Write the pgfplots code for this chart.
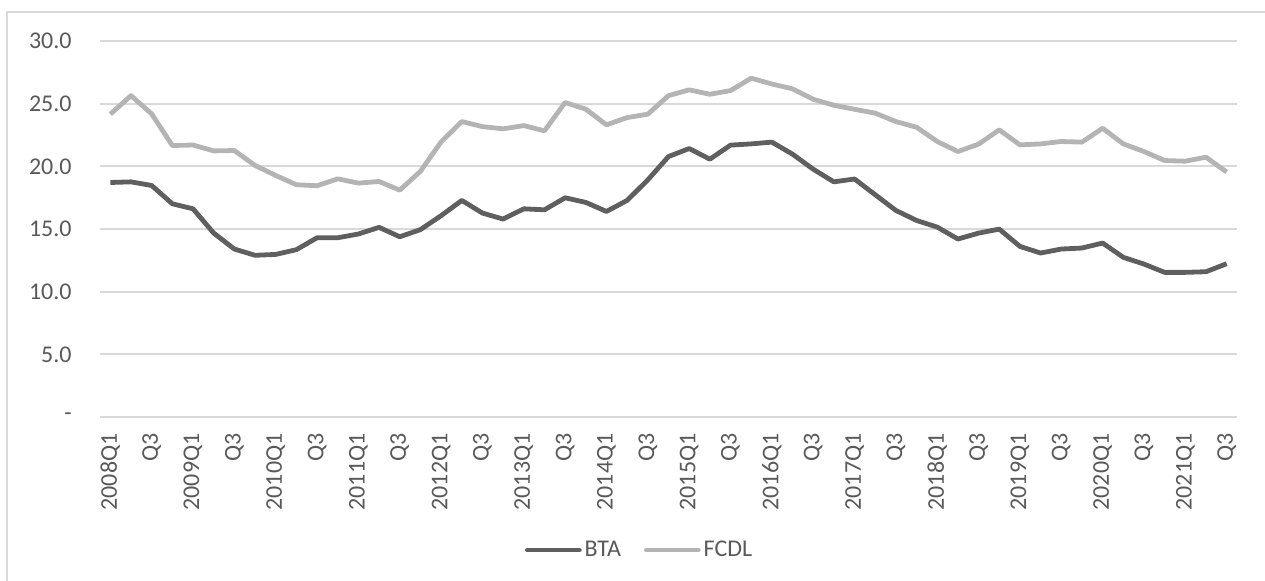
\documentclass[border=0pt]{standalone}
\usepackage{pgfplots}
\pgfplotsset{compat=1.18}
\usepackage{pgfplotstable}
\usepackage{fontspec}
\setmainfont{Carlito}
\definecolor{btacol}{HTML}{5F5F5F}
\definecolor{fcdlcol}{HTML}{B4B4B4}
\definecolor{gridcol}{HTML}{D9D9D9}
\definecolor{txtcol}{HTML}{595959}
\pgfplotstableread{
i bta fcdl
0 18.71 24.16
1 18.76 25.64
2 18.47 24.18
3 17.01 21.66
4 16.61 21.70
5 14.67 21.23
6 13.40 21.26
7 12.90 20.07
8 12.97 19.27
9 13.35 18.53
10 14.30 18.45
11 14.30 19.00
12 14.60 18.66
13 15.13 18.79
14 14.38 18.10
15 14.95 19.60
16 16.06 21.95
17 17.28 23.57
18 16.27 23.17
19 15.79 22.99
20 16.61 23.25
21 16.53 22.83
22 17.49 25.09
23 17.12 24.56
24 16.40 23.31
25 17.28 23.89
26 18.92 24.16
27 20.78 25.64
28 21.42 26.10
29 20.57 25.75
30 21.69 26.04
31 21.79 27.03
32 21.93 26.57
33 20.97 26.18
34 19.77 25.35
35 18.76 24.87
36 18.99 24.55
37 17.73 24.24
38 16.48 23.57
39 15.68 23.12
40 15.15 21.98
41 14.20 21.18
42 14.67 21.77
43 14.99 22.91
44 13.61 21.71
45 13.08 21.79
46 13.40 21.98
47 13.48 21.93
48 13.88 23.04
49 12.74 21.79
50 12.20 21.18
51 11.54 20.46
52 11.54 20.41
53 11.59 20.73
54 12.23 19.54
}\datatable
\begin{document}
\begin{tikzpicture}
\useasboundingbox (0,0) rectangle (632.5pt,290.5pt);
\draw[gridcol, line width=0.8pt] (3.5pt,0) -- (3.5pt,284.5pt) -- (632.5pt,284.5pt);
\begin{axis}[
  at={(50pt,82pt)}, anchor=south west,
  scale only axis, width=568.5pt, height=188pt,
  xmin=-0.5, xmax=54.5, ymin=0, ymax=30,
  axis line style={draw=none},
  ytick={0,5,10,15,20,25,30},
  yticklabels={-\hspace{6pt},5.0,10.0,15.0,20.0,25.0,30.0},
  ymajorgrids, grid style={gridcol, line width=0.9pt},
  xtick={0,2,...,54},
  xticklabels={2008Q1,Q3,2009Q1,Q3,2010Q1,Q3,2011Q1,Q3,2012Q1,Q3,2013Q1,Q3,2014Q1,Q3,2015Q1,Q3,2016Q1,Q3,2017Q1,Q3,2018Q1,Q3,2019Q1,Q3,2020Q1,Q3,2021Q1,Q3},
  tick style={draw=none},
  /pgf/number format/assume math mode=true,
  tick label style={font=\fontsize{12}{14}\selectfont, text=txtcol, inner sep=0pt},
  xticklabel style={rotate=90, anchor=east},
  xticklabel shift=8pt,
  yticklabel style={anchor=east},
  yticklabel shift=14pt,
  legend style={draw=none, fill=none, at={(0.475,-0.354)}, anchor=center,
    legend columns=2, font=\fontsize{12}{14}\selectfont, text=txtcol,
    /tikz/every even column/.append style={column sep=10pt},
    nodes={inner sep=1.5pt}},
  legend image code/.code={\draw[#1, line cap=round] (0pt,0pt) -- (26pt,0pt);},
  every axis plot/.append style={line width=2.4pt, line join=round, mark=none},
]
\addplot[btacol] table[x=i, y=bta] {\datatable};
\addlegendentry{BTA}
\addplot[fcdlcol] table[x=i, y=fcdl] {\datatable};
\addlegendentry{FCDL}
\end{axis}
\end{tikzpicture}
\end{document}
